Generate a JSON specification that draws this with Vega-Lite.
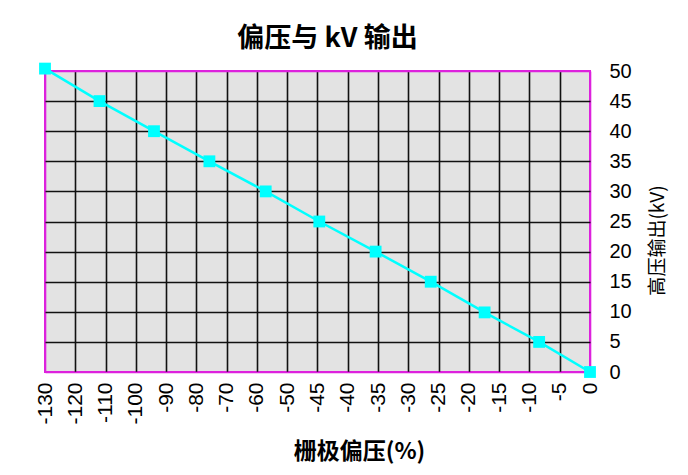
{
  "$schema": "https://vega.github.io/schema/vega-lite/v6.json",
  "width": 545,
  "height": 301,
  "autosize": {"type": "none"},
  "padding": {"left": 45, "top": 71, "right": 98, "bottom": 103},
  "background": "white",
  "title": {
    "text": "偏压与 kV 输出",
    "font": "Noto Sans CJK SC",
    "fontSize": 27,
    "fontWeight": "bold",
    "color": "#000000",
    "anchor": "middle",
    "dx": 10,
    "offset": 8
  },
  "data": {
    "values": [
      {"bias": -130, "kv": 50.4},
      {"bias": -112, "kv": 45},
      {"bias": -94, "kv": 40},
      {"bias": -75.7, "kv": 35},
      {"bias": -57.1, "kv": 30},
      {"bias": -44.7, "kv": 25},
      {"bias": -35.4, "kv": 20},
      {"bias": -26.3, "kv": 15},
      {"bias": -17.4, "kv": 9.9},
      {"bias": -8.4, "kv": 5},
      {"bias": 0, "kv": 0}
    ]
  },
  "mark": {
    "type": "line",
    "color": "#00ffff",
    "strokeWidth": 2.5,
    "clip": false,
    "point": {"shape": "square", "filled": true, "size": 140, "color": "#00ffff", "opacity": 1}
  },
  "encoding": {
    "x": {
      "field": "bias",
      "type": "quantitative",
      "scale": {"domain": [-130, -50, 0], "range": [0, 242.2, 545], "nice": false, "zero": false},
      "axis": {
        "values": [-130, -120, -110, -100, -90, -80, -70, -60, -50, -45, -40, -35, -30, -25, -20, -15, -10, -5, 0],
        "labelExpr": "datum.value + ''",
        "labelAngle": 270,
        "labelFont": "Liberation Sans",
        "labelFontSize": 21,
        "labelColor": "#000000",
        "labelPadding": 10,
        "labelOverlap": false,
        "labelFlush": false,
        "ticks": false,
        "domain": false,
        "grid": true,
        "gridColor": {"condition": {"test": "datum.value === -130 || datum.value === 0", "value": "#dd22dd"}, "value": "#111111"},
        "gridWidth": 1.6,
        "gridOpacity": 1,
        "title": "栅极偏压(%)",
        "titleFont": "Noto Sans CJK SC",
        "titleFontSize": 23,
        "titleFontWeight": "bold",
        "titleColor": "#000000",
        "titleX": 314,
        "titleY": 79,
        "titleBaseline": "middle",
        "titleAlign": "center"
      }
    },
    "y": {
      "field": "kv",
      "type": "quantitative",
      "scale": {"domain": [0, 50], "nice": false, "zero": true},
      "axis": {
        "orient": "right",
        "values": [0, 5, 10, 15, 20, 25, 30, 35, 40, 45, 50],
        "labelFont": "Liberation Sans",
        "labelFontSize": 20,
        "labelColor": "#000000",
        "labelPadding": 19,
        "labelOverlap": false,
        "labelFlush": false,
        "ticks": false,
        "domain": false,
        "grid": true,
        "gridColor": {"condition": {"test": "datum.value === 0 || datum.value === 50", "value": "#dd22dd"}, "value": "#111111"},
        "gridWidth": 1.6,
        "gridOpacity": 1,
        "title": "高压输出(kV)",
        "titleFont": "Noto Sans CJK SC",
        "titleFontSize": 19,
        "titleFontWeight": "normal",
        "titleColor": "#000000",
        "titleAngle": 270,
        "titleX": 67,
        "titleY": 169,
        "titleBaseline": "middle",
        "titleAlign": "center"
      }
    }
  },
  "config": {
    "view": {"fill": "#e3e3e3", "stroke": "#dd22dd", "strokeWidth": 2}
  }
}
